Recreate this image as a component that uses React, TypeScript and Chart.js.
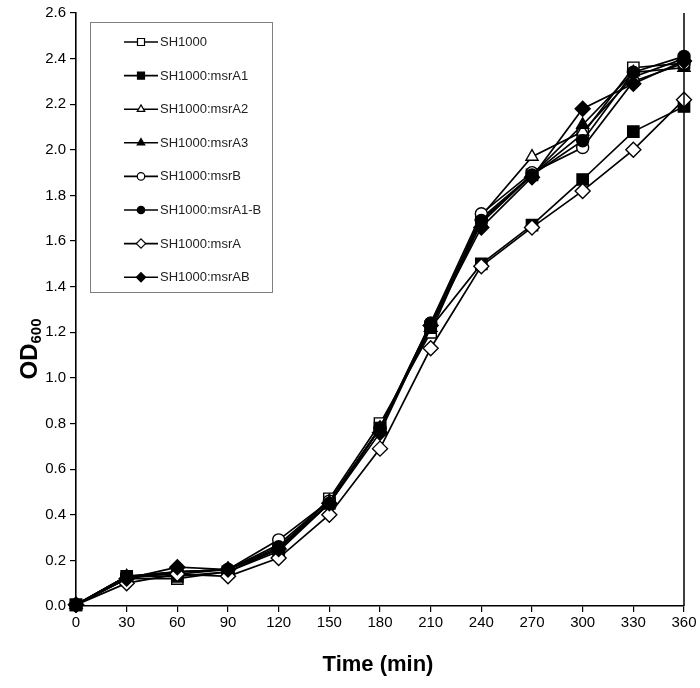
import React, { useEffect, useRef } from "react";
import { Chart, registerables } from "chart.js";

Chart.register(...registerables);

const times = [0, 30, 60, 90, 120, 150, 180, 210, 240, 270, 300, 330, 360];

const sh1000 = [0.005, 0.12, 0.12, 0.15, 0.25, 0.47, 0.8, 1.2, 1.7, 1.89, 2.07, 2.36, 2.38];
const msrA1 = [0.005, 0.13, 0.13, 0.15, 0.24, 0.45, 0.78, 1.22, 1.5, 1.67, 1.87, 2.08, 2.19];
const msrA2 = [0.005, 0.12, 0.15, 0.16, 0.27, 0.46, 0.78, 1.22, 1.71, 1.97, 2.08, 2.32, 2.4];
const msrA3 = [0.005, 0.13, 0.15, 0.16, 0.25, 0.45, 0.78, 1.22, 1.68, 1.89, 2.11, 2.34, 2.36];
const msrB = [0.005, 0.13, 0.15, 0.16, 0.29, 0.46, 0.78, 1.24, 1.72, 1.9, 2.01, 2.3, 2.38];
const msrA1B = [0.005, 0.13, 0.14, 0.16, 0.26, 0.45, 0.78, 1.24, 1.69, 1.89, 2.04, 2.34, 2.41];
const msrA = [0.005, 0.1, 0.14, 0.13, 0.21, 0.4, 0.69, 1.13, 1.49, 1.66, 1.82, 2.0, 2.22];
const msrAB = [0.005, 0.12, 0.17, 0.16, 0.25, 0.45, 0.76, 1.23, 1.66, 1.88, 2.18, 2.29, 2.39];

const seriesLabels = [
  "SH1000",
  "SH1000:msrA1",
  "SH1000:msrA2",
  "SH1000:msrA3",
  "SH1000:msrB",
  "SH1000:msrA1-B",
  "SH1000:msrA",
  "SH1000:msrAB",
];
const seriesValues = [sh1000, msrA1, msrA2, msrA3, msrB, msrA1B, msrA, msrAB];
const seriesShapes = ["rect", "rect", "triangle", "triangle", "circle", "circle", "rectRot", "rectRot"];
const seriesFilled = [false, true, false, true, false, true, false, true];

const yTicksMin = 0;
const yTicksMax = 2.6;
const xTicksMin = 0;
const xTicksMax = 360;

const FONT = "'Liberation Sans', Arial, sans-serif";

const radiusFor = (shape: string) =>
  shape === "rect" ? 8 : shape === "circle" ? 6 : shape === "triangle" ? 7 : 7.5;

function drawMarker(ctx: CanvasRenderingContext2D, shape: string, x: number, y: number, r: number) {
  ctx.beginPath();
  if (shape === "rect") {
    const s = Math.SQRT1_2 * r;
    ctx.rect(x - s, y - s, 2 * s, 2 * s);
  } else if (shape === "circle") {
    ctx.arc(x, y, r, 0, Math.PI * 2);
  } else if (shape === "triangle") {
    ctx.moveTo(x, y - r);
    ctx.lineTo(x + r * Math.sin(Math.PI / 3), y + r * 0.5);
    ctx.lineTo(x - r * Math.sin(Math.PI / 3), y + r * 0.5);
    ctx.closePath();
  } else {
    ctx.moveTo(x, y - r);
    ctx.lineTo(x + r, y);
    ctx.lineTo(x, y + r);
    ctx.lineTo(x - r, y);
    ctx.closePath();
  }
  ctx.fill();
  ctx.stroke();
}

const decorPlugin = {
  id: "decor",
  afterDraw(chart: any) {
    const { ctx, chartArea } = chart;
    ctx.save();
    ctx.strokeStyle = "#000";
    ctx.lineWidth = 1.5;
    ctx.beginPath();
    ctx.moveTo(chartArea.right, chartArea.top);
    ctx.lineTo(chartArea.right, chartArea.bottom);
    ctx.stroke();

    // Y title OD600
    ctx.save();
    ctx.translate(30, 349);
    ctx.rotate(-Math.PI / 2);
    ctx.fillStyle = "#000";
    ctx.textBaseline = "middle";
    const big = "bold 24px " + FONT;
    const small = "bold 15px " + FONT;
    ctx.font = big;
    const w1 = ctx.measureText("OD").width;
    ctx.font = small;
    const w2 = ctx.measureText("600").width;
    const start = -(w1 + w2) / 2;
    ctx.font = big;
    ctx.textAlign = "left";
    ctx.fillText("OD", start, 0);
    ctx.font = small;
    ctx.fillText("600", start + w1, 7);
    ctx.restore();

    // X title
    ctx.font = "bold 22px " + FONT;
    ctx.fillStyle = "#000";
    ctx.textAlign = "center";
    ctx.textBaseline = "middle";
    ctx.fillText("Time (min)", 378, 665);

    // Legend
    ctx.strokeStyle = "#808080";
    ctx.lineWidth = 1;
    ctx.strokeRect(90.5, 22.5, 182, 270);
    chart.data.datasets.forEach((ds: any, i: number) => {
      const y = 42 + i * 33.6;
      ctx.strokeStyle = "#000";
      ctx.lineWidth = 1.6;
      ctx.beginPath();
      ctx.moveTo(124, y);
      ctx.lineTo(158, y);
      ctx.stroke();
      ctx.fillStyle = ds.pointBackgroundColor;
      ctx.lineWidth = 1.2;
      drawMarker(ctx, ds.pointStyle, 141, y, ds.pointRadius * 0.62);
      ctx.fillStyle = "#222";
      ctx.font = "13px " + FONT;
      ctx.textAlign = "left";
      ctx.textBaseline = "middle";
      ctx.fillText(ds.label, 160, y + 0.5);
    });
    ctx.restore();
  },
};

export default function App() {
  const ref = useRef<HTMLCanvasElement | null>(null);
  useEffect(() => {
    if (!ref.current) return;
    const datasets = seriesLabels.map((label, i) => ({
      label,
      data: times.map((t, j) => ({ x: t, y: seriesValues[i][j] })),
      borderColor: "#000",
      borderWidth: 1.7,
      pointStyle: seriesShapes[i],
      pointRadius: radiusFor(seriesShapes[i]),
      pointBackgroundColor: seriesFilled[i] ? "#000" : "#fff",
      pointBorderColor: "#000",
      pointBorderWidth: 1.4,
      fill: false,
      tension: 0,
      order: seriesLabels.length - i,
      clip: false as any,
    }));
    const chart = new Chart(ref.current, {
      type: "line",
      data: { datasets },
      options: {
        animation: false,
        responsive: true,
        maintainAspectRatio: false,
        layout: { padding: { top: 7, right: 16, left: 0, bottom: 0 } },
        plugins: { legend: { display: false }, tooltip: { enabled: false } },
        scales: {
          x: {
            type: "linear",
            min: xTicksMin,
            max: xTicksMax,
            ticks: {
              stepSize: 30,
              color: "#000",
              font: { family: FONT, size: 15 },
              padding: 2,
              maxRotation: 0,
            },
            grid: {
              display: true,
              drawOnChartArea: false,
              drawTicks: true,
              tickLength: 6,
              color: "#000",
              lineWidth: 1.2,
            },
            border: { display: true, color: "#000", width: 1.6 },
            afterFit: (s: any) => {
              s.height = 82;
            },
          },
          y: {
            min: yTicksMin,
            max: yTicksMax,
            ticks: {
              stepSize: 0.2,
              color: "#000",
              font: { family: FONT, size: 15 },
              padding: 4,
              callback: (v: any) => Number(v).toFixed(1),
            },
            grid: {
              display: true,
              drawOnChartArea: false,
              drawTicks: true,
              tickLength: 6,
              color: "#000",
              lineWidth: 1.2,
            },
            border: { display: true, color: "#000", width: 1.6 },
            afterFit: (s: any) => {
              s.width = 76;
            },
          },
        },
      },
      plugins: [decorPlugin],
    });
    return () => chart.destroy();
  }, []);
  return (
    <div style={{ position: "fixed", left: 0, top: 0, width: 700, height: 688, background: "#fff" }}>
      <canvas ref={ref} />
    </div>
  );
}
